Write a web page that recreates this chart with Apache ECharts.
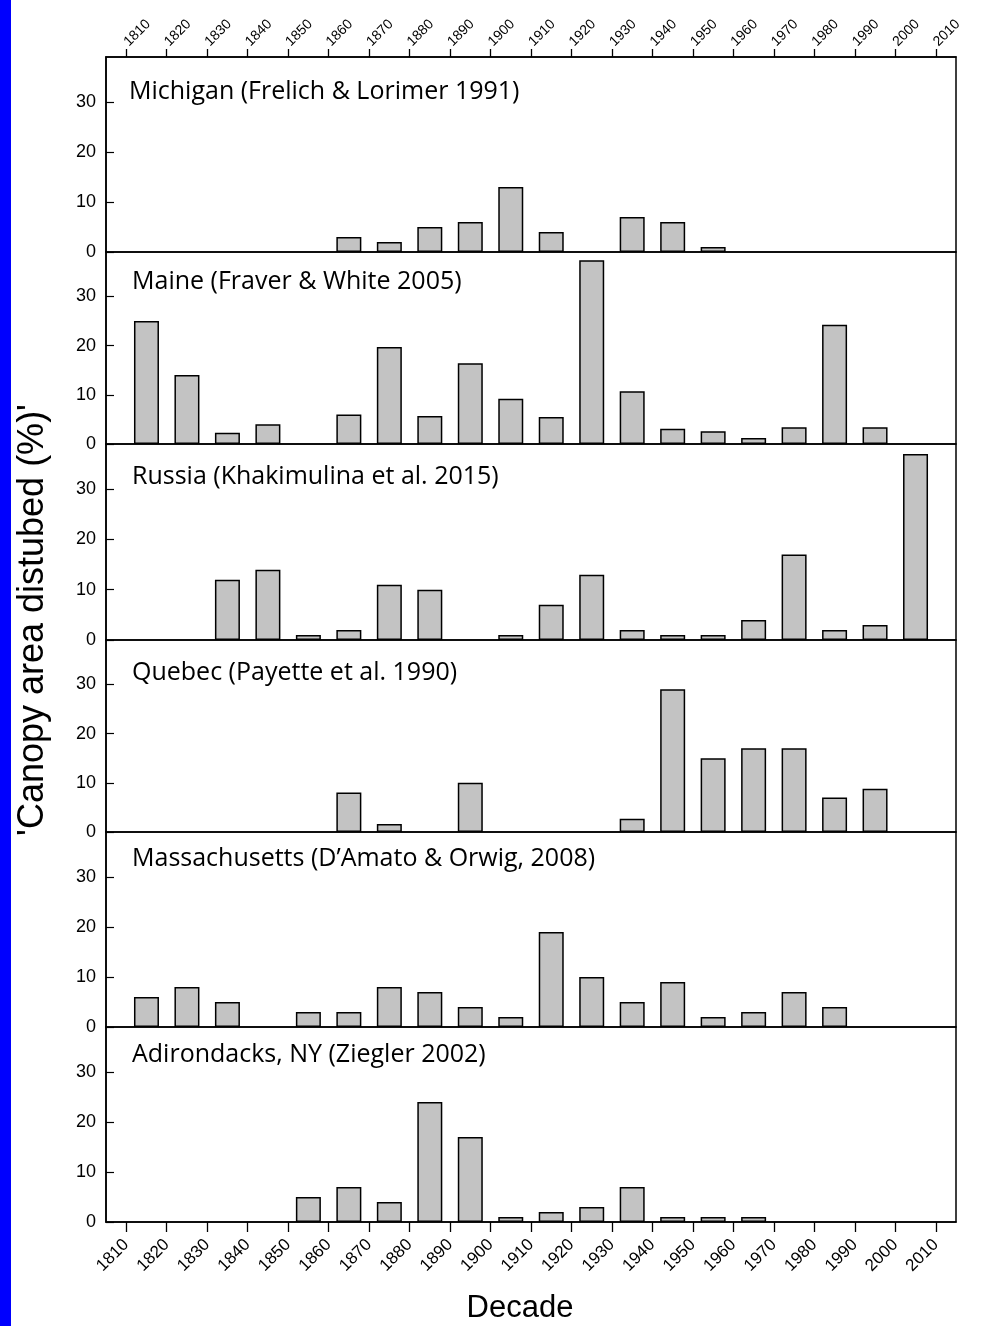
<!DOCTYPE html>
<html>
<head>
<meta charset="utf-8">
<script src="https://cdn.jsdelivr.net/npm/echarts@6/dist/echarts.min.js"></script>
<style>
  html, body { margin: 0; padding: 0; background: #fff; }
  #chart { width: 990px; height: 1326px; }
</style>
</head>
<body>
<div id="chart"></div>
<script>
// Decades (start year of each bar's decade)
const decades = [1810, 1820, 1830, 1840, 1850, 1860, 1870, 1880, 1890, 1900,
                 1910, 1920, 1930, 1940, 1950, 1960, 1970, 1980, 1990, 2000];
// Tick labels on the decade axes
const tickLabels = ['1810','1820','1830','1840','1850','1860','1870','1880','1890','1900',
                    '1910','1920','1930','1940','1950','1960','1970','1980','1990','2000','2010'];

// Panel titles
const panelTitles = [
  'Michigan (Frelich & Lorimer 1991)',
  'Maine (Fraver & White 2005)',
  'Russia (Khakimulina et al. 2015)',
  'Quebec (Payette et al. 1990)',
  'Massachusetts (D\u2019Amato & Orwig, 2008)',
  'Adirondacks, NY (Ziegler 2002)'
];

// Canopy area disturbed (%) per decade, null = no bar
const michigan      = [null, null, null, null, null, 3, 2, 5, 6, 13, 4, null, 7, 6, 1, null, null, null, null, null];
const maine         = [25, 14, 2.3, 4, null, 6, 19.7, 5.7, 16.4, 9.2, 5.5, 37.3, 10.7, 3.1, 2.6, 1.2, 3.4, 24.2, 3.4, null];
const russia        = [null, null, 12, 14, 1, 2, 11, 10, null, 1, 7, 13, 2, 1, 1, 4, 17, 2, 3, 37];
const quebec        = [null, null, null, null, null, 8, 1.6, null, 10, null, null, null, 2.7, 29, 15, 17, 17, 7, 8.8, null];
const massachusetts = [6, 8, 5, null, 3, 3, 8, 7, 4, 2, 19, 10, 5, 9, 2, 3, 7, 4, null, null];
const adirondacks   = [null, null, null, null, 5, 7, 4, 24, 17, 1, 2, 3, 7, 1, 1, 1, null, null, null, null];

const yTicks = [0, 10, 20, 30];

const allSeries = [michigan, maine, russia, quebec, massachusetts, adirondacks];

// layout
const bounds = [57, 252, 444, 640, 832, 1027, 1222];
const titleY = [92, 281.5, 476.5, 672.5, 858.5, 1055];
const titleX = [129, 132, 132, 132, 132, 132];
const GRID_LEFT = 106, GRID_RIGHT = 34;
const FONT = "'Liberation Sans', Arial, sans-serif";

const grids = [], xAxes = [], yAxes = [], series = [];
allSeries.forEach((vals, i) => {
  grids.push({
    left: GRID_LEFT, right: GRID_RIGHT, top: bounds[i], height: bounds[i + 1] - bounds[i],
    show: true, borderColor: '#000', borderWidth: 1.5, backgroundColor: 'transparent'
  });
  xAxes.push({
    type: 'value', gridIndex: i, min: 1805, max: 2015, show: false, position: 'bottom',
    splitLine: { show: false }
  });
  yAxes.push({
    type: 'value', gridIndex: i, min: 0, max: 39, interval: 10,
    axisLine: { show: true, lineStyle: { color: '#000', width: 1.5 } },
    axisTick: { show: true, inside: true, length: 8, lineStyle: { color: '#000', width: 1.2 } },
    axisLabel: {
      color: '#000', fontSize: 18, margin: 10, fontFamily: FONT, showMaxLabel: false,
      formatter: v => (yTicks.indexOf(v) >= 0 ? String(v) : '')
    },
    splitLine: { show: false }
  });
  const data = [];
  decades.forEach((d, j) => { if (vals[j] != null) data.push([d + 5, vals[j]]); });
  series.push({
    type: 'bar', xAxisIndex: i, yAxisIndex: i, data: data, barWidth: 25,
    itemStyle: { color: '#c3c3c3', borderColor: '#000', borderWidth: 1.5 },
    emphasis: { disabled: true }, silent: true
  });
});

function catAxis(gridIndex, position, fontSize, margin, tickLen, rot) {
  return {
    type: 'category', gridIndex: gridIndex, position: position, data: tickLabels, boundaryGap: true,
    axisLine: { show: true, lineStyle: { color: '#000', width: 1.5 } },
    axisTick: { show: true, alignWithLabel: true, interval: 0, length: tickLen, lineStyle: { color: '#000', width: 1.3 } },
    axisLabel: { interval: 0, rotate: rot, fontSize: fontSize, color: '#000', margin: margin, fontFamily: FONT },
    splitLine: { show: false }
  };
}
xAxes.push(catAxis(0, 'top', 14, 13, 8, -45));
xAxes.push(catAxis(5, 'bottom', 17, 20, 10, 45));

const graphic = [
  { type: 'rect', shape: { x: 0, y: 0, width: 11, height: 1326 }, style: { fill: '#0000fe' }, silent: true },
  {
    type: 'text', x: 33, y: 620, rotation: Math.PI / 2,
    style: { text: "'Canopy area distubed (%)'", fontSize: 36, fontFamily: FONT, fill: '#000',
             align: 'center', verticalAlign: 'middle' }
  },
  {
    type: 'text', x: 520, y: 1308,
    style: { text: 'Decade', fontSize: 31, fontFamily: FONT, fill: '#000', align: 'center', verticalAlign: 'middle' }
  }
];
panelTitles.forEach((t, i) => {
  graphic.push({
    type: 'text', x: titleX[i], y: titleY[i],
    style: { text: t, fontSize: 25, fontFamily: "'Open Sans', sans-serif", fill: '#000',
             align: 'left', verticalAlign: 'middle' }
  });
});

const chart = echarts.init(document.getElementById('chart'), null, { renderer: 'canvas' });
chart.setOption({
  animation: false,
  backgroundColor: '#fff',
  grid: grids,
  xAxis: xAxes,
  yAxis: yAxes,
  series: series,
  graphic: graphic
});
</script>
</body>
</html>
